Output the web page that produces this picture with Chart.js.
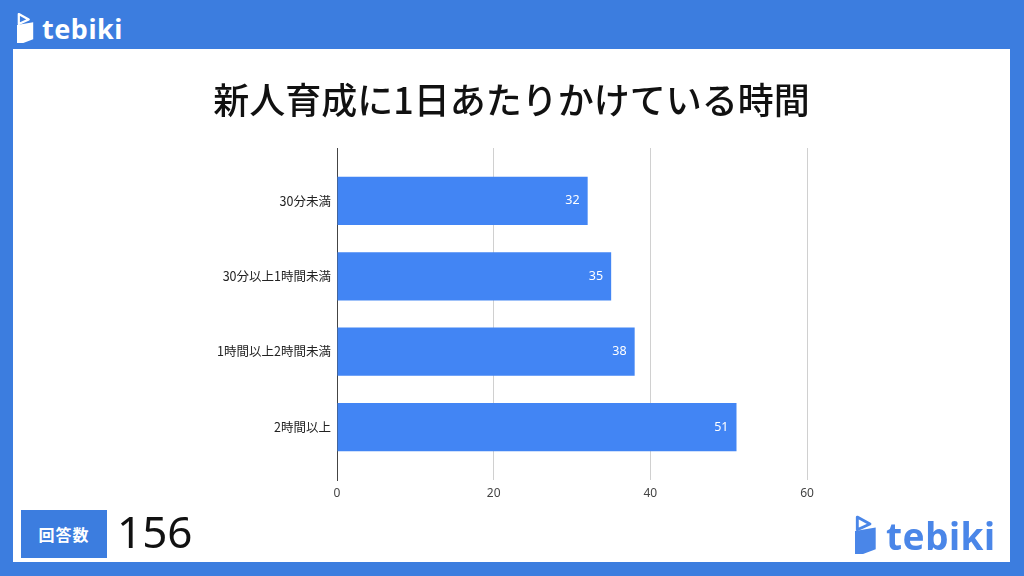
<!DOCTYPE html>
<html>
<head>
<meta charset="utf-8">
<script src="https://cdn.jsdelivr.net/npm/chart.js@4"></script>
<style>
  html, body { margin: 0; padding: 0; }
  body {
    width: 1024px; height: 576px; overflow: hidden; position: relative;
    background: #3c7ddf;
    font-family: "Noto Sans CJK JP", "Noto Sans", sans-serif;
  }
  .logo { position: absolute; display: flex; align-items: center; font-family: "Noto Sans", "Open Sans", sans-serif; font-weight: 700; }
  .logo-top { left: 17px; top: 10px; color: #fff; font-size: 27px; }
  .logo-bottom { left: 855px; top: 510px; color: #4a86e8; font-size: 37px; }
  .logo span { letter-spacing: 0.5px; }
  .panel { position: absolute; left: 13px; top: 49px; width: 997px; height: 513px; background: #fff; }
  #chart { position: absolute; left: 0; top: 0; }
  .title {
    position: absolute; left: 0; top: 27px; width: 997px; text-align: center;
    font-size: 36px; font-weight: 500; color: #111; line-height: 44px;
  }
  .count-label {
    position: absolute; left: 8px; top: 461px; width: 86px; height: 48px;
    background: #3c7ddf; color: #fff; font-size: 16px; font-weight: 700;
    display: flex; align-items: center; justify-content: center; letter-spacing: 1px;
  }
  .count-value { position: absolute; left: 104px; top: 452px; font-size: 44px; color: #111; font-family: "Noto Sans", sans-serif; }
</style>
</head>
<body>
<div class="panel">
  <canvas id="chart" width="997" height="513"></canvas>
  <div class="title">新人育成に1日あたりかけている時間</div>
  <div class="count-label">回答数</div>
  <div class="count-value">156</div>
</div>
<div class="logo logo-top">
  <svg width="18" height="31" viewBox="0 0 20 34" style="margin-right:7px">
    <polygon points="2,1 13,7 2,12" fill="none" stroke="#fff" stroke-width="2.5" stroke-linejoin="round"/>
    <polygon points="0,13 18,10 18,29 7,33 0,33" fill="#fff"/>
  </svg><span>tebiki</span>
</div>
<div class="logo logo-bottom">
  <svg width="23" height="41" viewBox="0 0 20 34" style="margin-right:8px">
    <polygon points="2,1 13,7 2,12" fill="none" stroke="#4a86e8" stroke-width="2.5" stroke-linejoin="round"/>
    <polygon points="0,13 18,10 18,29 7,33 0,33" fill="#4a86e8"/>
  </svg><span>tebiki</span>
</div>
<script>
// 新人育成に1日あたりかけている時間
var categories = ["30分未満", "30分以上1時間未満", "1時間以上2時間未満", "2時間以上"];
var counts = [32, 35, 38, 51];
var xTicks = [0, 20, 40, 60];

var barLabels = {
  id: "barLabels",
  afterDatasetsDraw: function(chart) {
    var c = chart.ctx;
    var meta = chart.getDatasetMeta(0);
    c.save();
    c.fillStyle = "#ffffff";
    c.font = "12.5px 'Noto Sans', sans-serif";
    c.textAlign = "right";
    c.textBaseline = "middle";
    meta.data.forEach(function(bar, i) {
      c.fillText(String(counts[i]), bar.x - 8, bar.y);
    });
    c.restore();
  }
};

new Chart(document.getElementById("chart"), {
  type: "bar",
  data: {
    datasets: [{
      data: counts.map(function(v, i) { return { x: v, y: i }; }),
      backgroundColor: "#4285f4",
      borderWidth: 0,
      categoryPercentage: 1,
      barPercentage: 0.64
    }]
  },
  options: {
    indexAxis: "y",
    responsive: false,
    animation: false,
    layout: { padding: { left: 0, right: 203, top: 99, bottom: 52 } },
    plugins: {
      legend: { display: false },
      tooltip: { enabled: false },
      title: { display: false }
    },
    scales: {
      x: {
        type: "linear",
        min: 0,
        max: 60,
        afterBuildTicks: function(s) { s.ticks = xTicks.map(function(v) { return { value: v }; }); },
        afterFit: function(s) { s.height = 30; },
        grid: {
          drawTicks: false,
          color: function(ctx) { return ctx.tick && ctx.tick.value === 0 ? "#444" : "#d0d0d0"; }
        },
        border: { display: false },
        ticks: { padding: 6, color: "#444", font: { family: "'Noto Sans', sans-serif", size: 12 } }
      },
      y: {
        type: "linear",
        reverse: true,
        offset: false,
        min: -0.7,
        max: 3.7,
        afterBuildTicks: function(s) { s.ticks = categories.map(function(c, i) { return { value: i }; }); },
        afterFit: function(s) { s.width = 324; },
        grid: { display: false, drawTicks: false },
        border: { display: true, color: "#444" },
        ticks: {
          padding: 6,
          color: "#222",
          font: { family: "'Noto Sans CJK JP'", size: 12.5 },
          callback: function(v) { return categories[v]; }
        }
      }
    }
  },
  plugins: [barLabels]
});
</script>
</body>
</html>
